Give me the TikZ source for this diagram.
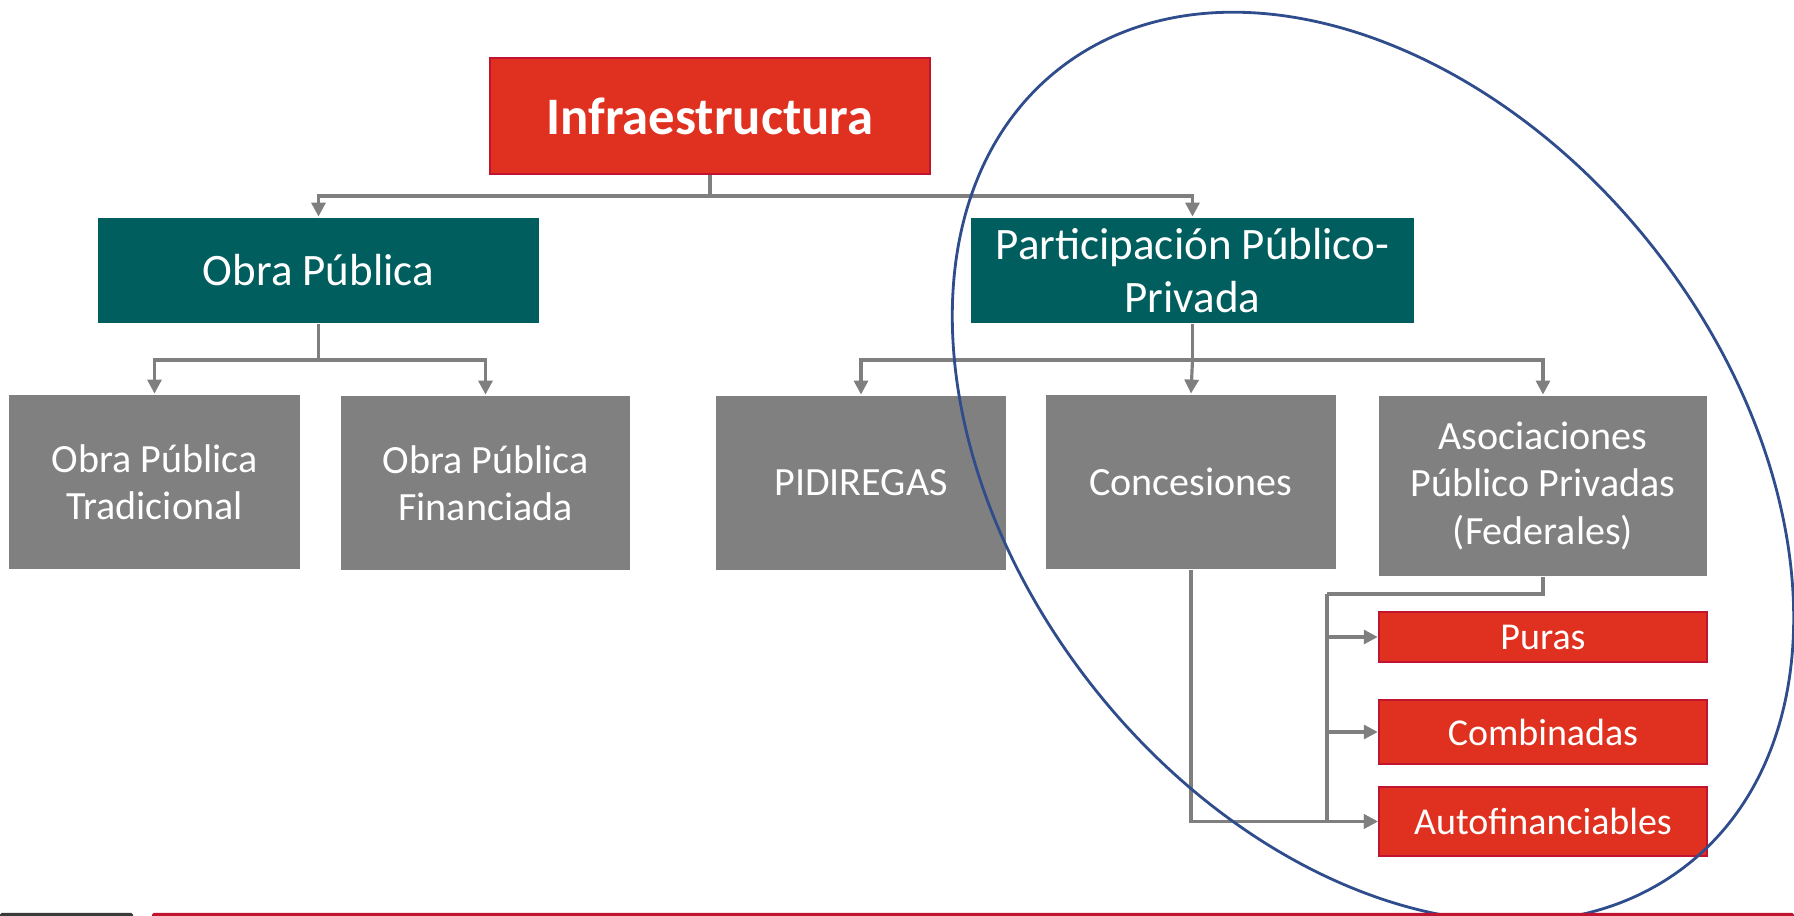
\documentclass[tikz,border=0pt]{standalone}
\usepackage{fontspec}
\setmainfont{Carlito}
\usetikzlibrary{arrows.meta}

\definecolor{rojo}{HTML}{E03120}
\definecolor{rojoborde}{HTML}{C01430}
\definecolor{verde}{HTML}{005E5E}
\definecolor{gris}{HTML}{808080}
\definecolor{linea}{HTML}{7F7F7F}
\definecolor{azul}{HTML}{2F4C8C}
\definecolor{barra}{HTML}{3A3A3A}

\begin{document}
\begin{tikzpicture}[thick,
  rojobox/.style={draw=rojoborde,fill=rojo,text=white,inner sep=0pt,line width=0.7pt},
  verdebox/.style={fill=verde,text=white,inner sep=0pt,align=center,font=\fontsize{12.8}{15.2}\selectfont},
  grisbox/.style={fill=gris,text=white,inner sep=0pt,align=center,font=\fontsize{11.4}{13.4}\selectfont},
  conn/.style={draw=linea,line width=0.9pt},
  arr/.style={conn,-{Triangle[length=1.4mm,width=1.4mm]}}]
\useasboundingbox (0,0) rectangle (17.94,-9.16);

\node[rojobox,minimum width=4.4cm,minimum height=1.16cm,font=\fontsize{15}{18}\bfseries] at (7.10,-1.16) (infra) {Infraestructura};

\node[verdebox,minimum width=4.41cm,minimum height=1.05cm] at (3.185,-2.705) (obra) {Obra Pública};
\node[verdebox,minimum width=4.43cm,minimum height=1.05cm] at (11.925,-2.705) (ppp) {Participación Público-\\Privada};

\node[grisbox,minimum width=2.91cm,minimum height=1.74cm] at (1.545,-4.82) (trad) {Obra Pública\\Tradicional};
\node[grisbox,minimum width=2.89cm,minimum height=1.74cm] at (4.855,-4.83) (fin) {Obra Pública\\Financiada};
\node[grisbox,minimum width=2.90cm,minimum height=1.74cm] at (8.61,-4.83) (pid) {PIDIREGAS};
\node[grisbox,minimum width=2.90cm,minimum height=1.74cm] at (11.91,-4.82) (con) {Concesiones};
\node[grisbox,minimum width=3.28cm,minimum height=1.80cm] at (15.43,-4.86) (app) {Asociaciones\\Público Privadas\\(Federales)};

\node[rojobox,minimum width=3.28cm,minimum height=0.50cm,font=\fontsize{10.8}{12}\selectfont] at (15.43,-6.37) (puras) {Puras};
\node[rojobox,minimum width=3.28cm,minimum height=0.64cm,font=\fontsize{10.8}{12}\selectfont] at (15.43,-7.32) (comb) {Combinadas};
\node[rojobox,minimum width=3.28cm,minimum height=0.69cm,font=\fontsize{10.8}{12}\selectfont] at (15.43,-8.215) (auto) {Autofinanciables};

\coordinate (j1) at (7.10,-1.96);
\coordinate (j2) at (3.185,-3.60);
\coordinate (j3) at (11.925,-3.60);
\coordinate (j4) at (13.27,-5.94);

\draw[conn] (infra.south) -- (j1);
\draw[arr] (j1) -| (obra.north);
\draw[arr] (j1) -| (ppp.north);

\draw[conn] (obra.south) -- (j2);
\draw[arr] (j2) -| (trad.north);
\draw[arr] (j2) -| (fin.north);

\draw[conn] (ppp.south) -- (j3);
\draw[arr] (j3) -| (pid.north);
\draw[arr] (j3) -- (con.north);
\draw[arr] (j3) -| (app.north);

\draw[conn] (app.south) |- (j4);
\draw[arr] (j4) |- (auto.west);
\draw[arr] (j4 |- puras.west) -- (puras.west);
\draw[arr] (j4 |- comb.west) -- (comb.west);
\draw[arr] (con.south) |- (auto.west);

% ellipse around the PPP part
\draw[azul,line width=0.8pt] (13.73,-4.67) ellipse[x radius=5.07cm,y radius=3.56cm,rotate=-51.6];

% slide bars
\fill[barra,rounded corners=0.5pt] (0,-9.13) rectangle (1.33,-9.19);
\fill[rojoborde,rounded corners=0.5pt] (1.52,-9.13) rectangle (17.94,-9.19);
\end{tikzpicture}
\end{document}
